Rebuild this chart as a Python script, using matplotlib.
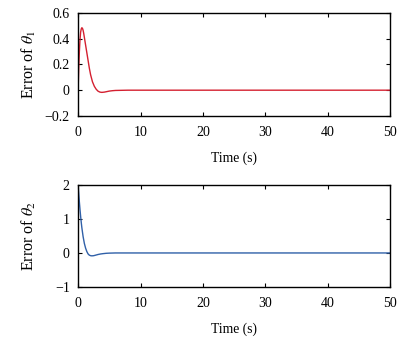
import matplotlib
matplotlib.use("Agg")
import matplotlib.pyplot as plt

# error of theta_1
t1 = [0, 0.05, 0.1, 0.2, 0.3, 0.4, 0.5, 0.6, 0.7, 0.8, 0.9, 1.0, 1.2, 1.4, 1.6,
      1.8, 2.0, 2.3, 2.6, 2.9, 3.2, 3.5, 3.8, 4.2, 4.6, 5.0, 5.5, 6.0, 7.0, 8.0,
      10, 50]
e1 = [0, 0.09, 0.17, 0.30, 0.39, 0.45, 0.475, 0.485, 0.48, 0.465, 0.44, 0.41,
      0.35, 0.29, 0.23, 0.17, 0.12, 0.065, 0.03, 0.007, -0.008, -0.015, -0.017,
      -0.015, -0.011, -0.007, -0.004, -0.002, -0.001, 0, 0, 0]

# error of theta_2
t2 = [0, 0.1, 0.2, 0.3, 0.4, 0.5, 0.6, 0.8, 1.0, 1.2, 1.4, 1.6, 1.8, 2.0, 2.2,
      2.5, 2.8, 3.2, 3.6, 4.0, 4.5, 5, 6, 8, 50]
e2 = [2.0, 1.75, 1.5, 1.28, 1.08, 0.9, 0.74, 0.48, 0.28, 0.14, 0.04, -0.03,
      -0.065, -0.08, -0.085, -0.08, -0.065, -0.045, -0.03, -0.02, -0.01,
      -0.005, 0, 0, 0]

plt.rcParams['font.family'] = 'Liberation Serif'
plt.rcParams['mathtext.fontset'] = 'stix'
plt.rcParams['font.size'] = 10

fig = plt.figure(figsize=(4.09, 3.4), dpi=100)
ax1 = fig.add_axes([0.191, 0.659, 0.763, 0.303])
ax2 = fig.add_axes([0.191, 0.156, 0.763, 0.300])

ax1.plot(t1, e1, color='#d42030', lw=1.0)
ax1.set_xlim(0, 50)
ax1.set_ylim(-0.2, 0.6)
ax1.set_yticks([-0.2, 0, 0.2, 0.4, 0.6])
ax1.set_yticklabels(['\u22120.2', '0', '0.2', '0.4', '0.6'])
ax1.set_ylabel(r'Error of $\theta_1$', fontsize=11.5)

ax2.plot(t2, e2, color='#3060a8', lw=1.0)
ax2.set_xlim(0, 50)
ax2.set_ylim(-1, 2)
ax2.set_yticks([-1, 0, 1, 2])
ax2.set_yticklabels(['\u22121', '0', '1', '2'])
ax2.set_ylabel(r'Error of $\theta_2$', fontsize=11.5)

for ax in (ax1, ax2):
    ax.set_xticks([0, 10, 20, 30, 40, 50])
    ax.set_xlabel('Time (s)', fontsize=9.8, labelpad=9)
    ax.yaxis.set_label_coords(-0.13, 0.5)
    ax.tick_params(direction='in', top=True, right=True, length=3, width=0.8)
    ax.tick_params(axis='x', pad=7.5)
    ax.tick_params(axis='y', pad=6)
    for s in ax.spines.values():
        s.set_linewidth(1.0)

fig.savefig('out.png', dpi=100)
